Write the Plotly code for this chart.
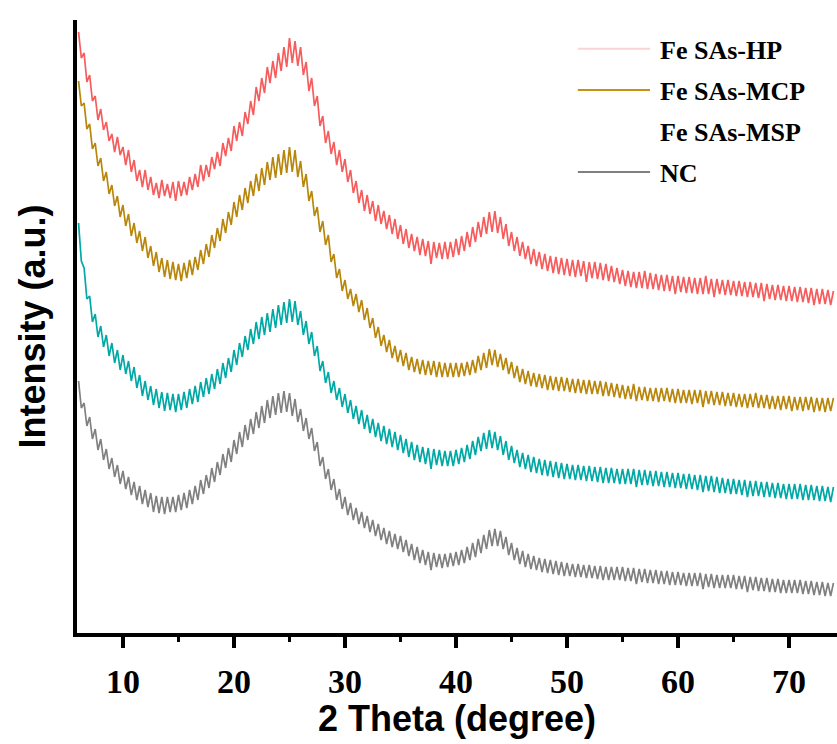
import plotly.graph_objects as go

# 2-theta sampling (degrees), 0.25 deg steps from 6 to 74
theta = [
    6.0, 6.25, 6.5, 6.75, 7.0, 7.25, 7.5, 7.75, 8.0, 8.25, 8.5, 8.75, 9.0, 9.25, 9.5, 9.75,
    10.0, 10.25, 10.5, 10.75, 11.0, 11.25, 11.5, 11.75, 12.0, 12.25, 12.5, 12.75, 13.0, 13.25, 13.5, 13.75,
    14.0, 14.25, 14.5, 14.75, 15.0, 15.25, 15.5, 15.75, 16.0, 16.25, 16.5, 16.75, 17.0, 17.25, 17.5, 17.75,
    18.0, 18.25, 18.5, 18.75, 19.0, 19.25, 19.5, 19.75, 20.0, 20.25, 20.5, 20.75, 21.0, 21.25, 21.5, 21.75,
    22.0, 22.25, 22.5, 22.75, 23.0, 23.25, 23.5, 23.75, 24.0, 24.25, 24.5, 24.75, 25.0, 25.25, 25.5, 25.75,
    26.0, 26.25, 26.5, 26.75, 27.0, 27.25, 27.5, 27.75, 28.0, 28.25, 28.5, 28.75, 29.0, 29.25, 29.5, 29.75,
    30.0, 30.25, 30.5, 30.75, 31.0, 31.25, 31.5, 31.75, 32.0, 32.25, 32.5, 32.75, 33.0, 33.25, 33.5, 33.75,
    34.0, 34.25, 34.5, 34.75, 35.0, 35.25, 35.5, 35.75, 36.0, 36.25, 36.5, 36.75, 37.0, 37.25, 37.5, 37.75,
    38.0, 38.25, 38.5, 38.75, 39.0, 39.25, 39.5, 39.75, 40.0, 40.25, 40.5, 40.75, 41.0, 41.25, 41.5, 41.75,
    42.0, 42.25, 42.5, 42.75, 43.0, 43.25, 43.5, 43.75, 44.0, 44.25, 44.5, 44.75, 45.0, 45.25, 45.5, 45.75,
    46.0, 46.25, 46.5, 46.75, 47.0, 47.25, 47.5, 47.75, 48.0, 48.25, 48.5, 48.75, 49.0, 49.25, 49.5, 49.75,
    50.0, 50.25, 50.5, 50.75, 51.0, 51.25, 51.5, 51.75, 52.0, 52.25, 52.5, 52.75, 53.0, 53.25, 53.5, 53.75,
    54.0, 54.25, 54.5, 54.75, 55.0, 55.25, 55.5, 55.75, 56.0, 56.25, 56.5, 56.75, 57.0, 57.25, 57.5, 57.75,
    58.0, 58.25, 58.5, 58.75, 59.0, 59.25, 59.5, 59.75, 60.0, 60.25, 60.5, 60.75, 61.0, 61.25, 61.5, 61.75,
    62.0, 62.25, 62.5, 62.75, 63.0, 63.25, 63.5, 63.75, 64.0, 64.25, 64.5, 64.75, 65.0, 65.25, 65.5, 65.75,
    66.0, 66.25, 66.5, 66.75, 67.0, 67.25, 67.5, 67.75, 68.0, 68.25, 68.5, 68.75, 69.0, 69.25, 69.5, 69.75,
    70.0, 70.25, 70.5, 70.75, 71.0, 71.25, 71.5, 71.75, 72.0, 72.25, 72.5, 72.75, 73.0, 73.25, 73.5, 73.75,
    74.0]

fe_sas_hp = [
    601, 575, 580, 551, 558, 532, 537, 513, 524, 503, 511, 492, 499, 481, 496, 478,
    486, 468, 483, 461, 473, 452, 463, 446, 463, 443, 456, 438, 450, 435, 453, 437,
    449, 435, 451, 432, 452, 437, 451, 438, 456, 443, 459, 446, 468, 452, 468, 456,
    476, 464, 481, 467, 490, 477, 495, 482, 507, 492, 511, 497, 521, 509, 532, 518,
    546, 532, 555, 540, 566, 550, 572, 555, 580, 562, 586, 566, 595, 570, 592, 567,
    586, 558, 571, 542, 555, 527, 537, 507, 517, 490, 502, 479, 491, 468, 483, 461,
    474, 451, 463, 440, 452, 430, 443, 422, 438, 419, 432, 412, 428, 409, 422, 404,
    418, 399, 414, 394, 408, 389, 404, 385, 399, 382, 396, 378, 394, 377, 392, 369,
    391, 375, 390, 374, 391, 374, 391, 376, 394, 378, 397, 382, 401, 386, 406, 391,
    411, 396, 416, 399, 421, 401, 422, 400, 416, 394, 409, 387, 401, 382, 396, 377,
    391, 374, 387, 369, 384, 367, 381, 364, 379, 362, 377, 360, 376, 359, 375, 358,
    374, 357, 373, 356, 373, 357, 372, 351, 371, 355, 371, 354, 370, 353, 369, 352,
    367, 351, 365, 349, 363, 347, 362, 346, 361, 345, 361, 345, 362, 344, 360, 344,
    359, 343, 358, 342, 358, 342, 357, 339, 357, 341, 356, 340, 356, 340, 355, 339,
    355, 339, 357, 339, 354, 336, 354, 339, 353, 338, 353, 338, 352, 337, 352, 337,
    351, 336, 351, 336, 350, 335, 350, 332, 349, 334, 348, 333, 348, 333, 347, 332,
    347, 332, 346, 331, 346, 331, 345, 330, 345, 328, 344, 329, 344, 329, 343, 328,
    342]

fe_sas_mcp = [
    552, 527, 530, 504, 509, 484, 490, 467, 475, 452, 461, 439, 448, 427, 437, 416,
    428, 407, 419, 397, 410, 390, 402, 382, 396, 375, 387, 367, 381, 361, 375, 356,
    373, 354, 371, 353, 369, 352, 370, 355, 373, 358, 376, 363, 383, 369, 389, 376,
    398, 385, 405, 392, 414, 400, 421, 408, 431, 416, 438, 423, 445, 430, 452, 437,
    459, 442, 465, 448, 471, 453, 476, 455, 479, 458, 483, 460, 486, 461, 483, 456,
    472, 446, 459, 432, 442, 417, 426, 401, 412, 388, 398, 371, 379, 355, 364, 342,
    353, 334, 344, 327, 339, 321, 333, 313, 325, 305, 315, 295, 306, 287, 298, 281,
    293, 275, 287, 271, 283, 267, 280, 263, 276, 261, 274, 259, 273, 258, 272, 258,
    272, 256, 271, 256, 270, 256, 270, 256, 270, 256, 270, 257, 271, 258, 273, 260,
    277, 263, 280, 265, 284, 268, 283, 266, 279, 263, 275, 259, 271, 255, 267, 251,
    264, 249, 262, 247, 260, 246, 259, 245, 258, 243, 257, 243, 256, 242, 256, 242,
    255, 241, 254, 240, 254, 240, 253, 239, 253, 239, 252, 239, 252, 237, 251, 237,
    250, 236, 249, 235, 248, 234, 247, 234, 249, 232, 246, 233, 246, 232, 245, 232,
    245, 231, 245, 232, 245, 231, 244, 230, 244, 230, 243, 230, 243, 229, 243, 230,
    243, 226, 242, 229, 242, 228, 241, 228, 241, 227, 240, 227, 240, 226, 239, 226,
    239, 225, 239, 226, 240, 225, 238, 225, 238, 224, 237, 224, 237, 223, 237, 224,
    237, 222, 236, 223, 236, 222, 236, 223, 236, 221, 235, 222, 235, 221, 235, 222,
    235]

fe_sas_msp = [
    410, 372, 365, 334, 337, 311, 319, 296, 307, 286, 298, 277, 290, 270, 283, 263,
    278, 259, 272, 252, 266, 245, 258, 237, 252, 233, 247, 228, 244, 225, 241, 222,
    240, 223, 239, 221, 239, 223, 241, 225, 244, 229, 247, 231, 251, 236, 255, 239,
    259, 244, 264, 249, 270, 255, 275, 261, 283, 268, 290, 276, 297, 283, 304, 289,
    311, 294, 316, 298, 320, 301, 324, 305, 328, 308, 331, 310, 334, 311, 332, 308,
    322, 298, 312, 289, 301, 277, 287, 262, 272, 250, 261, 240, 252, 233, 245, 226,
    239, 220, 233, 214, 227, 209, 223, 204, 218, 200, 214, 196, 210, 192, 207, 189,
    204, 186, 201, 183, 198, 180, 194, 176, 191, 173, 188, 171, 186, 169, 185, 164,
    184, 168, 183, 167, 182, 167, 182, 167, 183, 169, 185, 171, 188, 174, 192, 178,
    196, 182, 200, 184, 203, 185, 201, 183, 197, 178, 192, 173, 187, 170, 183, 166,
    180, 164, 178, 161, 176, 160, 174, 158, 173, 157, 172, 156, 171, 155, 170, 154,
    169, 154, 168, 153, 168, 153, 167, 152, 167, 152, 166, 151, 166, 150, 165, 150,
    165, 150, 164, 149, 164, 149, 164, 149, 164, 146, 163, 148, 163, 148, 162, 147,
    162, 147, 161, 146, 161, 146, 160, 145, 160, 145, 159, 144, 159, 144, 158, 143,
    158, 141, 157, 142, 157, 141, 156, 140, 155, 140, 154, 139, 154, 139, 153, 138,
    153, 136, 152, 137, 152, 137, 151, 136, 151, 136, 150, 135, 150, 135, 149, 134,
    149, 134, 149, 134, 149, 133, 148, 133, 148, 133, 147, 132, 147, 132, 146, 131,
    146]

nc = [
    252, 225, 230, 207, 216, 194, 204, 183, 194, 173, 184, 164, 175, 156, 168, 149,
    162, 144, 156, 138, 151, 133, 147, 129, 143, 126, 140, 121, 137, 120, 136, 119,
    136, 121, 136, 121, 138, 123, 140, 125, 143, 129, 147, 133, 153, 139, 158, 145,
    165, 151, 171, 158, 179, 165, 185, 171, 193, 179, 201, 186, 208, 193, 214, 199,
    221, 205, 227, 210, 233, 215, 237, 218, 240, 220, 242, 221, 240, 217, 234, 211,
    224, 202, 215, 194, 205, 182, 191, 167, 176, 154, 164, 143, 154, 133, 144, 124,
    136, 118, 130, 113, 125, 109, 121, 105, 117, 101, 113, 97, 109, 93, 105, 89,
    102, 86, 99, 84, 97, 81, 93, 77, 89, 73, 86, 70, 83, 68, 81, 63,
    80, 66, 79, 65, 79, 66, 80, 67, 81, 68, 83, 70, 86, 73, 90, 76,
    94, 80, 98, 84, 103, 87, 104, 87, 102, 84, 96, 78, 90, 73, 85, 69,
    82, 66, 79, 64, 77, 63, 75, 61, 74, 60, 73, 59, 72, 58, 71, 57,
    70, 57, 69, 56, 69, 56, 68, 55, 68, 55, 67, 54, 67, 53, 66, 53,
    66, 53, 66, 53, 66, 52, 65, 52, 65, 49, 64, 51, 64, 50, 63, 50,
    63, 49, 62, 49, 62, 48, 61, 48, 61, 48, 60, 47, 60, 47, 60, 47,
    60, 44, 59, 46, 59, 45, 58, 45, 58, 45, 58, 45, 58, 44, 57, 44,
    57, 41, 56, 43, 56, 42, 55, 42, 55, 41, 54, 41, 54, 40, 53, 40,
    53, 40, 53, 40, 53, 39, 52, 39, 52, 38, 51, 38, 51, 37, 50, 37,
    50]

series_names = ["Fe SAs-HP", "Fe SAs-MCP", "Fe SAs-MSP", "NC"]
series_values = [fe_sas_hp, fe_sas_mcp, fe_sas_msp, nc]
series_colors = ["#F65C5C", "#B8860B", "#00A9A6", "#808080"]
legend_colors = ["#FAD4D4", "#C8900E", "rgba(0,0,0,0)", "#808080"]
x_tick_vals = [10, 20, 30, 40, 50, 60, 70]
x_tick_text = ["10", "20", "30", "40", "50", "60", "70"]
x_minor_vals = [15, 25, 35, 45, 55, 65]

fig = go.Figure()
for name, vals, col in zip(series_names, series_values, series_colors):
    fig.add_trace(go.Scatter(x=theta, y=vals, mode="lines", name=name,
                             line=dict(color=col, width=1.7), showlegend=False))

# Legend drawn manually (long sample lines, as in the reference)
row_y = [0.953, 0.886, 0.819, 0.752]
for name, col, yy in zip(series_names, legend_colors, row_y):
    fig.add_shape(type="line", xref="paper", yref="paper", x0=0.659, x1=0.754, y0=yy, y1=yy,
                  line=dict(color=col, width=2))
    fig.add_annotation(xref="paper", yref="paper", x=0.765, y=yy - 0.003, xanchor="left",
                       yanchor="middle", text=name, showarrow=False,
                       font=dict(family="Liberation Serif", size=26, color="black", weight="bold"))

# Axis titles
fig.add_annotation(xref="paper", yref="paper", x=0.5, y=0, yshift=-63, xanchor="center",
                   yanchor="top", text="2 Theta (degree)", showarrow=False,
                   font=dict(family="Liberation Sans", size=36, color="black", weight="bold"))
fig.add_annotation(xref="paper", yref="paper", x=0, y=0.5, xshift=-45, xanchor="center",
                   yanchor="middle", text="Intensity (a.u.)", textangle=-90, showarrow=False,
                   font=dict(family="Liberation Sans", size=36, color="black", weight="bold"))

fig.update_layout(
    width=837, height=744,
    margin=dict(l=77, r=0, t=20, b=111),
    plot_bgcolor="white", paper_bgcolor="white",
    showlegend=False,
    xaxis=dict(range=[5.86, 74.32], tickvals=x_tick_vals, ticktext=x_tick_text, automargin=False,
               ticks="outside", ticklen=11, tickwidth=4, tickcolor="black", ticklabelstandoff=4,
               showline=True, linewidth=4, linecolor="black", showgrid=False, zeroline=False,
               minor=dict(tickvals=x_minor_vals, ticks="outside", ticklen=5,
                          tickwidth=3, tickcolor="black", showgrid=False),
               tickfont=dict(family="Liberation Serif", size=34, color="black", weight="bold")),
    yaxis=dict(range=[0, 613], showticklabels=False, ticks="", showgrid=False, zeroline=False,
               automargin=False, showline=True, linewidth=4, linecolor="black"),
)

fig.write_html("out.html", config={"displayModeBar": False},
               post_script="document.body.style.margin='0px';")
